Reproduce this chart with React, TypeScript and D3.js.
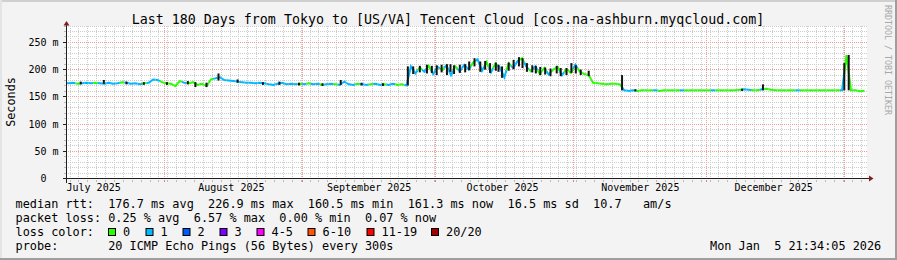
import React from "react";
import * as d3 from "d3";

const W = 897;
const H = 260;
const DAY = 86400000;
const END = Date.UTC(2026, 0, 5, 21, 34, 5);
const START = END - 180 * DAY;

const title = "Last 180 Days from Tokyo to [US/VA] Tencent Cloud [cos.na-ashburn.myqcloud.com]";

// median rtt per day (ms), day 0 = start of window
const medianMs = [
  175, 176, 174, 175, 176, 175, 176, 175, 174, 176,
  174, 175, 177, 176, 174, 175, 173, 175, 176, 182,
  181, 177, 175, 174, 170, 179, 176, 175, 177, 172,
  174, 170, 182, 184, 186, 181, 180, 179, 178, 177,
  176, 176, 175, 176, 175, 173, 172, 174, 176, 173,
  174, 173, 174, 173, 175, 173, 174, 172, 173, 174,
  173, 172, 178, 173, 172, 174, 173, 172, 173, 174,
  172, 173, 172, 174, 172, 173, 171, 206, 193, 204,
  196, 207, 192, 205, 199, 208, 190, 206, 197, 209,
  200, 213, 219, 198, 214, 195, 211, 204, 186, 212,
  203, 216, 221, 205, 197, 206, 192, 203, 191, 200,
  205, 190, 201, 194, 209, 196, 192, 190, 176, 175,
  174, 173, 174, 174, 173, 162, 161, 162, 161, 162,
  162, 162, 162, 161, 162, 162, 162, 162, 162, 162,
  162, 162, 162, 162, 162, 162, 162, 162, 162, 162,
  162, 163, 164, 163, 162, 162, 164, 165, 163, 162,
  162, 162, 162, 162, 162, 162, 162, 162, 162, 162,
  162, 162, 162, 162, 162, 226.9, 162, 162, 160.5, 161.3,
];

// loss bucket index per day (0 = no loss, 1 = 1/20 lost)
const lossBucket = [
  1, 1, 0, 1, 1, 1, 0, 1, 1, 1,
  1, 1, 0, 1, 1, 1, 1, 0, 1, 1,
  1, 0, 0, 0, 0, 0, 1, 0, 0, 0,
  0, 0, 0, 1, 1, 1, 1, 1, 1, 1,
  1, 1, 1, 1, 1, 1, 1, 1, 1, 1,
  1, 1, 0, 1, 0, 1, 1, 0, 1, 1,
  0, 1, 1, 1, 1, 0, 1, 1, 0, 1,
  1, 0, 1, 1, 0, 0, 1, 1, 1, 0,
  1, 0, 1, 1, 0, 1, 1, 0, 1, 1,
  1, 0, 1, 1, 0, 1, 0, 1, 1, 0,
  1, 1, 0, 1, 0, 1, 0, 0, 1, 0,
  0, 1, 0, 0, 1, 0, 0, 0, 0, 0,
  0, 0, 0, 0, 0, 1, 1, 1, 0, 0,
  0, 0, 1, 0, 0, 0, 0, 0, 1, 0,
  0, 0, 0, 0, 0, 1, 0, 0, 0, 0,
  0, 0, 1, 1, 0, 0, 1, 0, 0, 0,
  0, 0, 0, 0, 1, 0, 0, 0, 0, 0,
  0, 0, 0, 0, 1, 0, 0, 0, 0, 0,
];

// smoke spikes: position (days into window), low and high (ms)
const smokeDay = [
  3.2, 8.4, 13.5, 17.4, 22.6, 27.3, 29.0, 31.5, 34.2, 38.5, 44.2, 47.9, 52.3, 57.6, 61.7, 66.4, 71.2,
  76.8, 78.0, 79.5, 81.1, 82.2, 83.3, 84.4, 85.6, 86.4, 87.2, 88.5, 89.7, 90.6, 91.8, 93.1, 94.2, 95.3,
  96.6, 97.2, 98.0, 99.5, 100.6, 101.8, 102.6, 103.6, 104.8, 105.6, 106.6, 107.7, 108.9, 110.3, 111.2,
  112.5, 113.6, 114.6, 115.7, 117.5, 125.0, 128.0, 152.0, 156.7, 175.0, 176.0,
];
const smokeLow = [
  173, 174, 173, 172, 172, 173, 168, 168, 180, 176, 172, 172, 171, 170, 172, 171, 170,
  171, 192, 195, 193, 194, 190, 195, 190, 196, 192, 194, 195, 199, 206, 196, 200, 194,
  198, 196, 185, 198, 201, 206, 203, 196, 195, 193, 190, 191, 188, 193, 188,
  190, 194, 193, 190, 188, 162, 160, 161, 162, 162, 162,
];
const smokeHigh = [
  178, 181, 178, 177, 177, 179, 177, 176, 193, 182, 177, 178, 176, 175, 181, 176, 175,
  206, 206, 207, 209, 207, 208, 209, 210, 210, 208, 209, 210, 215, 221, 215, 216, 212,
  213, 209, 206, 213, 218, 223, 221, 212, 208, 207, 205, 204, 202, 207, 203,
  203, 212, 208, 200, 198, 190, 164, 165, 173, 212, 227,
];

const yTicks = [0, 50, 100, 150, 200, 250];
const monthStarts = [
  Date.UTC(2025, 6, 1), Date.UTC(2025, 7, 1), Date.UTC(2025, 8, 1), Date.UTC(2025, 9, 1),
  Date.UTC(2025, 10, 1), Date.UTC(2025, 11, 1), Date.UTC(2026, 0, 1),
];
const monthLabels = ["July 2025", "August 2025", "September 2025", "October 2025", "November 2025", "December 2025", "January 2026"];

const lossLabels = ["0", "1", "2", "3", "4-5", "6-10", "11-19", "20/20"];
const lossColors = ["#26ff00", "#00b8ff", "#0059ff", "#7e00ff", "#ff00ff", "#ff5500", "#ff0000", "#a00000"];
const lossBoxX = [108, 145.5, 182.5, 219.5, 256.5, 307.5, 366.5, 431];

const legendLines = [
  "median rtt:  176.7 ms avg  226.9 ms max  160.5 ms min  161.3 ms now  16.5 ms sd  10.7   am/s",
  "packet loss: 0.25 % avg  6.57 % max  0.00 % min  0.07 % now",
  "loss color:",
  "probe:       20 ICMP Echo Pings (56 Bytes) every 300s",
];
const stamp = "Mon Jan  5 21:34:05 2026";

const FONT = "'DejaVu Sans Mono', monospace";

function dotsH(row: number, x0: number, x1: number) {
  let s = "";
  for (let c = x0; c <= x1; c += 2) s += `M${c},${row}h1v1h-1z`;
  return s;
}
function dotsV(col: number, y0: number, y1: number) {
  let s = "";
  for (let r = y0; r <= y1; r += 2) s += `M${col},${r}h1v1h-1z`;
  return s;
}

export default function App() {
  const x = d3.scaleUtc().domain([START, END]).range([66.5, 866.5]);
  const y = d3.scaleLinear().domain([0, 280]).range([178.5, 26.1]);
  const fl = Math.floor;
  const xd = (d: number) => x(START + d * DAY);

  const left = 66.5, right = 866.5;
  const topRow = fl(y(280)), botRow = fl(y(0));
  const top = topRow + 0.5, bottom = botRow + 0.5;

  const minorAnchor = Date.UTC(2025, 6, 10, 17, 0, 0);
  const minorCols = d3.range(minorAnchor, END, 2 * DAY).map((t) => fl(x(t)));
  const majorCols = monthStarts.filter((t) => t > START && t < END).map((t) => fl(x(t)));
  const minorRows = d3.range(10, 281, 10).filter((v) => v % 50 !== 0).map((v) => fl(y(v)));
  const majorRows = yTicks.filter((v) => v > 0).map((v) => fl(y(v)));

  const minorPath =
    minorCols.map((c) => dotsV(c, topRow, botRow - 1)).join("") +
    minorRows.map((r) => dotsH(r, 68, 866)).join("");
  const majorPath =
    majorCols.map((c) => dotsV(c, topRow, botRow - 1)).join("") +
    majorRows.map((r) => dotsH(r, 68, 866)).join("");

  const labels = monthStarts
    .map((t, i) => ({ c: x(t + 15 * DAY), s: monthLabels[i] }))
    .filter((l) => l.c > left && l.c < right);

  const pts = medianMs.map((v, i) => [xd(i + 0.5), y(v)] as [number, number]);
  const segs = pts.map((p, i) => {
    const a = i === 0 ? [xd(0), p[1]] : [(pts[i - 1][0] + p[0]) / 2, (pts[i - 1][1] + p[1]) / 2];
    const b = i === pts.length - 1 ? [xd(180) - 2, p[1]] : [(pts[i + 1][0] + p[0]) / 2, (pts[i + 1][1] + p[1]) / 2];
    return { d: `M${a[0]},${a[1]}L${p[0]},${p[1]}L${b[0]},${b[1]}`, c: lossColors[lossBucket[i]] };
  });

  return (
    <div style={{ position: "absolute", left: 0, top: 0 }}>
      <svg width={W} height={H} style={{ display: "block" }} fontFamily={FONT}>
        <rect x={0} y={0} width={W} height={H} fill="#f3f3f3" />
        <line x1={0} y1={1} x2={W} y2={1} stroke="#cfcfcf" strokeWidth={2} />
        <line x1={1} y1={0} x2={1} y2={H} stroke="#e4e4e4" strokeWidth={2} />
        <line x1={0} y1={H - 1} x2={W} y2={H - 1} stroke="#9e9e9e" strokeWidth={2} />
        <line x1={W - 1} y1={0} x2={W - 1} y2={H} stroke="#9e9e9e" strokeWidth={2} />
        <rect x={67} y={topRow} width={800} height={botRow - topRow} fill="#ffffff" />

        <path d={minorPath} fill="#cccccc" shapeRendering="crispEdges" />
        <path d={majorPath} fill="#f09a9a" shapeRendering="crispEdges" />

        <g shapeRendering="crispEdges" strokeWidth={1}>
          {minorCols.map((c, i) => (
            <line key={"tx" + i} x1={c + 0.5} x2={c + 0.5} y1={bottom + 1} y2={bottom + 3} stroke="#bbbbbb" />
          ))}
          {majorCols.map((c, i) => (
            <line key={"tX" + i} x1={c + 0.5} x2={c + 0.5} y1={bottom + 1} y2={bottom + 3} stroke="#e08080" />
          ))}
          {minorRows.map((r, i) => (
            <line key={"ty" + i} x1={left - 3} x2={left - 1} y1={r + 0.5} y2={r + 0.5} stroke="#bbbbbb" />
          ))}
          {yTicks.map((t, i) => (
            <line key={"tY" + i} x1={left - 4} x2={left} y1={fl(y(t)) + 0.5} y2={fl(y(t)) + 0.5} stroke="#1f1f1f" />
          ))}
        </g>

        <g fill="none" strokeWidth={2} strokeLinejoin="miter">
          {segs.map((s, i) => (
            <path key={"s" + i} d={s.d} stroke={s.c} />
          ))}
        </g>
        <g fill="#141414">
          {smokeDay.map((d, i) => (
            <rect key={"k" + i} x={xd(d) - 1} width={2} y={y(smokeHigh[i])} height={y(smokeLow[i]) - y(smokeHigh[i])} />
          ))}
        </g>

        <g shapeRendering="crispEdges" stroke="#1f1f1f" strokeWidth={1}>
          <line x1={left} x2={left} y1={bottom + 4} y2={24} />
          <line x1={left - 4} x2={869} y1={bottom} y2={bottom} />
        </g>
        <path d={`M${left},21 L${left + 3},25.5 L${left - 3},25.5 Z`} fill="#801f1f" />
        <path d={`M873.5,${bottom} L869,${bottom - 3} L869,${bottom + 3} Z`} fill="#801f1f" />

        <g fontSize={10} fill="#000">
          {yTicks.map((t) => (
            <text key={"yl" + t} x={t === 0 ? 46.5 : 58.6} y={fl(y(t)) + 4.3} textAnchor="end">
              {t === 0 ? "0" : `${t} m`}
            </text>
          ))}
          {labels.map((l) => (
            <text key={l.s} x={l.c} y={190.5} textAnchor="middle">
              {l.s}
            </text>
          ))}
        </g>

        <text x={448} y={24} fontSize={13.3} textAnchor="middle" fill="#000">
          {title}
        </text>
        <text transform="translate(14.5,102) rotate(-90)" fontSize={11.8} textAnchor="middle" fill="#000">
          Seconds
        </text>
        <text transform="translate(885,60) rotate(90)" fontSize={8.3} textAnchor="middle" fill="#a8a8a8">
          RRDTOOL / TOBI OETIKER
        </text>

        <g fontSize={11.85} fill="#000" style={{ whiteSpace: "pre" }}>
          {legendLines.map((s, i) => (
            <text key={"lg" + i} x={15.5} y={208 + i * 14} xmlSpace="preserve">
              {s}
            </text>
          ))}
          {lossLabels.map((s, i) => (
            <g key={"lb" + i}>
              <rect x={lossBoxX[i] + 0.5} y={228.5} width={7} height={7} fill={lossColors[i]} stroke="#000" strokeWidth={1} />
              <text x={lossBoxX[i] + 15} y={236}>
                {s}
              </text>
            </g>
          ))}
          <text x={881.2} y={250} textAnchor="end" xmlSpace="preserve">
            {stamp}
          </text>
        </g>
      </svg>
    </div>
  );
}
